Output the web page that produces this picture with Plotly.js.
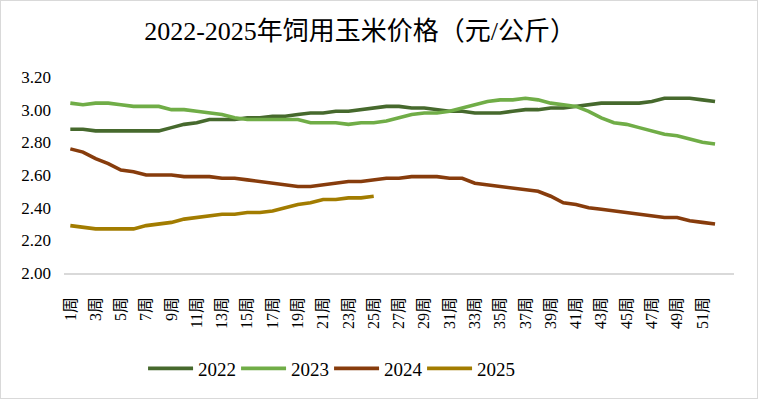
<!DOCTYPE html>
<html>
<head>
<meta charset="utf-8">
<script src="https://cdn.plot.ly/plotly-3.0.1.min.js"></script>
<style>
html,body{margin:0;padding:0;background:#fff;}
#chart{width:756px;height:397px;border:1px solid #d9d9d9;}
</style>
</head>
<body>
<div id="chart"></div>
<script>
const weeks = ["1周","2周","3周","4周","5周","6周","7周","8周","9周","10周",
  "11周","12周","13周","14周","15周","16周","17周","18周","19周","20周",
  "21周","22周","23周","24周","25周","26周","27周","28周","29周","30周",
  "31周","32周","33周","34周","35周","36周","37周","38周","39周","40周",
  "41周","42周","43周","44周","45周","46周","47周","48周","49周","50周",
  "51周","52周"];
const tickLabels = ["1周","3周","5周","7周","9周","11周","13周","15周","17周","19周",
  "21周","23周","25周","27周","29周","31周","33周","35周","37周","39周",
  "41周","43周","45周","47周","49周","51周"];
const yTicks = [2.00,2.20,2.40,2.60,2.80,3.00,3.20];

const y2022 = [2.88,2.88,2.87,2.87,2.87,2.87,2.87,2.87,2.89,2.91,
  2.92,2.94,2.94,2.94,2.95,2.95,2.96,2.96,2.97,2.98,
  2.98,2.99,2.99,3.00,3.01,3.02,3.02,3.01,3.01,3.00,
  2.99,2.99,2.98,2.98,2.98,2.99,3.00,3.00,3.01,3.01,
  3.02,3.03,3.04,3.04,3.04,3.04,3.05,3.07,3.07,3.07,
  3.06,3.05];
const y2023 = [3.04,3.03,3.04,3.04,3.03,3.02,3.02,3.02,3.00,3.00,
  2.99,2.98,2.97,2.95,2.94,2.94,2.94,2.94,2.94,2.92,
  2.92,2.92,2.91,2.92,2.92,2.93,2.95,2.97,2.98,2.98,
  2.99,3.01,3.03,3.05,3.06,3.06,3.07,3.06,3.04,3.03,
  3.02,2.99,2.95,2.92,2.91,2.89,2.87,2.85,2.84,2.82,
  2.80,2.79];
const y2024 = [2.76,2.74,2.70,2.67,2.63,2.62,2.60,2.60,2.60,2.59,
  2.59,2.59,2.58,2.58,2.57,2.56,2.55,2.54,2.53,2.53,
  2.54,2.55,2.56,2.56,2.57,2.58,2.58,2.59,2.59,2.59,
  2.58,2.58,2.55,2.54,2.53,2.52,2.51,2.50,2.47,2.43,
  2.42,2.40,2.39,2.38,2.37,2.36,2.35,2.34,2.34,2.32,
  2.31,2.30];
const y2025 = [2.29,2.28,2.27,2.27,2.27,2.27,2.29,2.30,2.31,2.33,
  2.34,2.35,2.36,2.36,2.37,2.37,2.38,2.40,2.42,2.43,
  2.45,2.45,2.46,2.46,2.47];

const seriesNames = ["2022","2023","2024","2025"];
const seriesData = [y2022,y2023,y2024,y2025];
const colors = ["#46692d","#70ad47","#873c0c","#a27c00"];

const traces = seriesData.map((ys,i)=>({
  type:'scatter', mode:'lines', name:seriesNames[i],
  x: weeks.slice(0, ys.length), y: ys,
  line:{color:colors[i], width:3.6, shape:'linear'},
  hoverinfo:'skip'
}));

const serif = "'Liberation Serif', 'Times New Roman', 'Noto Sans CJK SC', serif";

const layout = {
  width:756, height:397,
  margin:{l:63, r:23, t:76, b:124, pad:0},
  paper_bgcolor:'#ffffff', plot_bgcolor:'#ffffff',
  showlegend:true,
  title:{text:'2022-2025年饲用玉米价格（元/公斤）', font:{family:serif, size:26, color:'#000'},
    x:0.442, xanchor:'center', xref:'paper', y:0.925, yanchor:'middle', yref:'container'},
  xaxis:{type:'category', categoryorder:'array', categoryarray:weeks,
    range:[-0.5, 52.5], tickmode:'array', tickvals:tickLabels, ticktext:tickLabels,
    tickangle:-90, tickfont:{family:serif, size:16, color:'#000'},
    showgrid:false, zeroline:false, showline:true, linecolor:'#d9d9d9', linewidth:1.5,
    ticks:'', ticklabelstandoff:16, fixedrange:true},
  yaxis:{range:[2,3.2], tickmode:'array', tickvals:yTicks,
    ticktext:yTicks.map(v=>v.toFixed(2)),
    tickfont:{family:serif, size:17, color:'#000'},
    showgrid:false, zeroline:false, showline:false, ticks:'', ticklabelstandoff:12, fixedrange:true},
  legend:{orientation:'h', x:0.118, xanchor:'left', y:-0.48, yanchor:'middle',
    font:{family:serif, size:19, color:'#000'}, entrywidth:33, itemwidth:45, traceorder:'normal',
    bgcolor:'rgba(0,0,0,0)'}
};

Plotly.newPlot('chart', traces, layout, {displayModeBar:false, staticPlot:true});
</script>
</body>
</html>
